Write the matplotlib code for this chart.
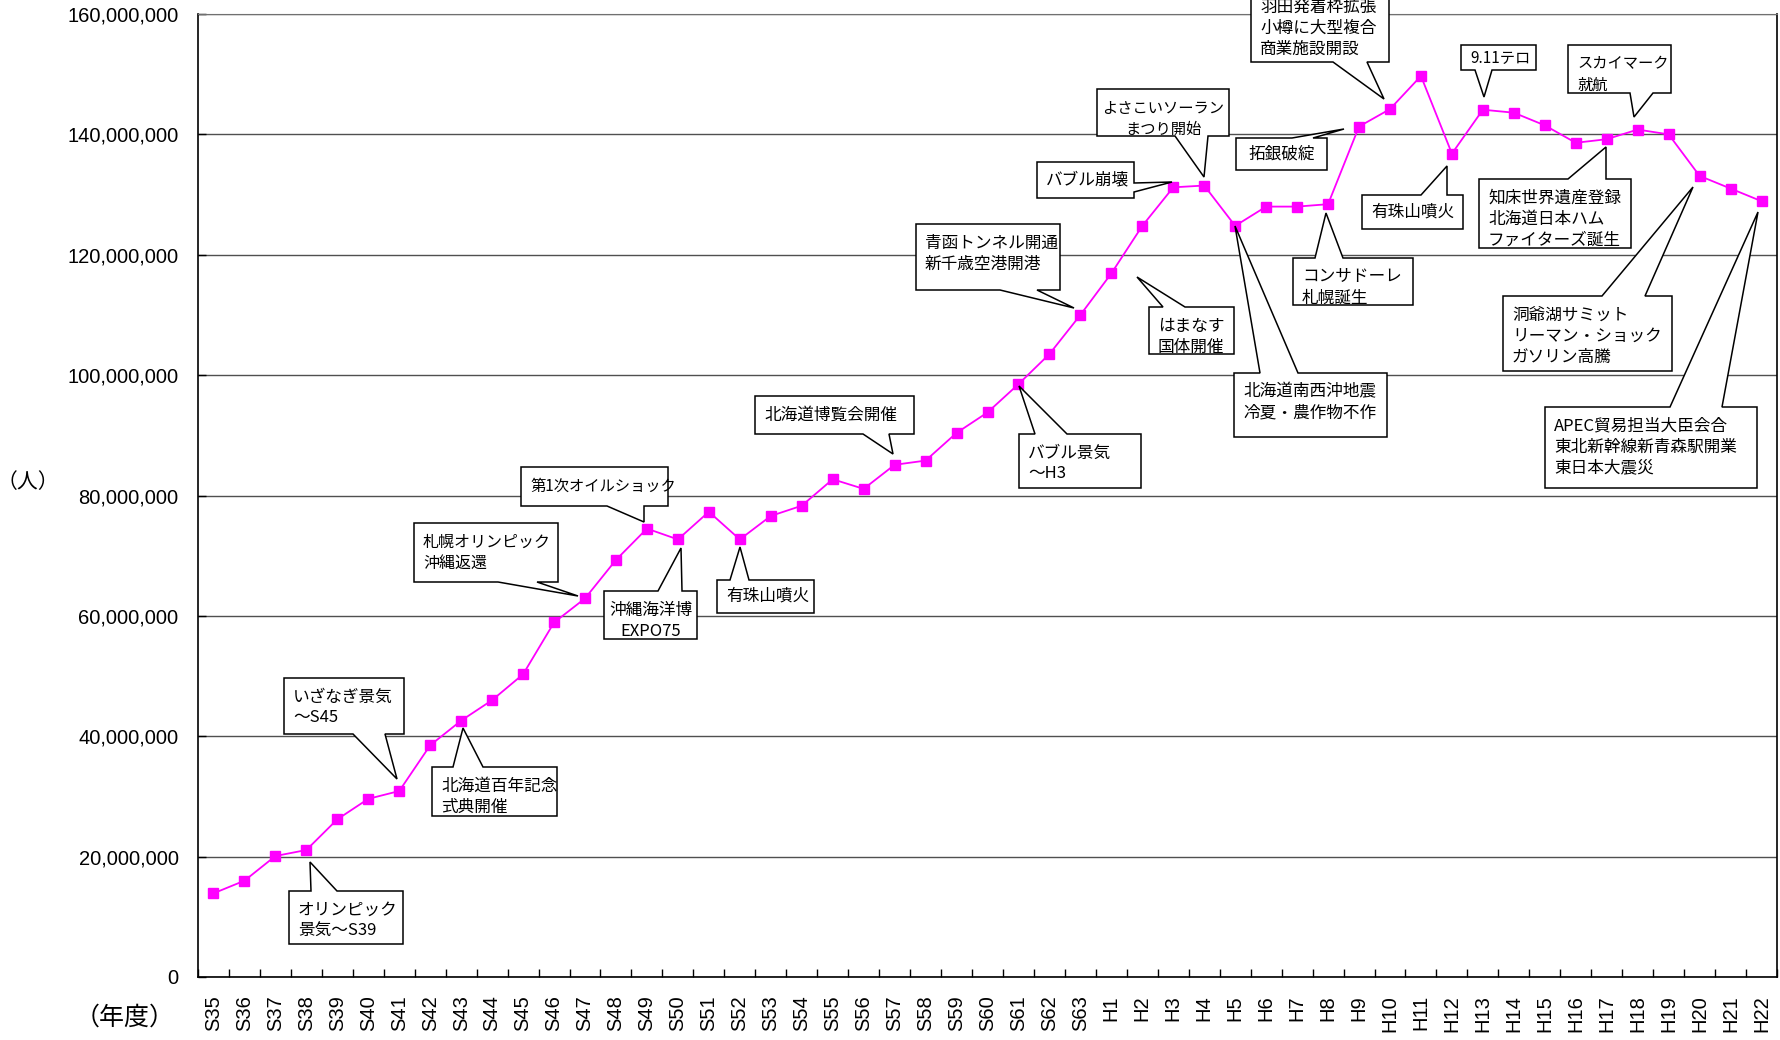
import matplotlib.pyplot as plt
from matplotlib.patches import Polygon
from matplotlib.ticker import FuncFormatter, MultipleLocator
import numpy as np

plt.rcParams['font.family'] = ['Noto Sans CJK JP', 'DejaVu Sans']

# 年度
years = ['S35', 'S36', 'S37', 'S38', 'S39', 'S40', 'S41', 'S42', 'S43', 'S44',
         'S45', 'S46', 'S47', 'S48', 'S49', 'S50', 'S51', 'S52', 'S53', 'S54',
         'S55', 'S56', 'S57', 'S58', 'S59', 'S60', 'S61', 'S62', 'S63',
         'H1', 'H2', 'H3', 'H4', 'H5', 'H6', 'H7', 'H8', 'H9', 'H10',
         'H11', 'H12', 'H13', 'H14', 'H15', 'H16', 'H17', 'H18', 'H19', 'H20',
         'H21', 'H22']

# 観光入込客数 (百万人)
visitors_m = [13.9, 16.0, 20.1, 21.1, 26.2, 29.6, 30.9, 38.5, 42.6, 46.0,
              50.3, 58.9, 62.9, 69.3, 74.5, 72.7, 77.3, 72.7, 76.6, 78.3,
              82.7, 81.1, 85.1, 85.8, 90.4, 93.8, 98.5, 103.5, 110.0,
              116.9, 124.8, 131.2, 131.5, 124.8, 128.0, 128.0, 128.4, 141.3, 144.2,
              149.7, 136.8, 144.1, 143.6, 141.5, 138.6, 139.2, 140.8, 140.0, 133.1,
              131.0, 128.9]
visitors = np.array(visitors_m) * 1e6

# 吹き出し: テキスト, 箱(px), 吹き出しの辺, 付け根, 先端(px), 揃え, 文字サイズ
callouts = [
    ('オリンピック\n景気～S39', (289, 891, 403, 944), 'top', (311, 337), (310, 862), 'left', 12),
    ('いざなぎ景気\n～S45', (284, 678, 404, 734), 'bottom', (353, 385), (397, 779), 'left', 12),
    ('北海道百年記念\n式典開催', (432, 767, 557, 816), 'top', (453, 483), (463, 728), 'left', 12),
    ('札幌オリンピック\n沖縄返還', (414, 523, 558, 582), 'bottom', (498, 537), (578, 596), 'left', 11.5),
    ('第1次オイルショック', (521, 467, 668, 506), 'bottom', (607, 644), (644, 522), 'left', 11),
    ('沖縄海洋博\nEXPO75', (604, 591, 697, 639), 'top', (658, 682), (681, 548), 'center', 12),
    ('有珠山噴火', (717, 580, 814, 613), 'top', (730, 749), (740, 547), 'left', 12),
    ('北海道博覧会開催', (755, 396, 914, 434), 'bottom', (863, 889), (893, 454), 'left', 12),
    ('バブル景気\n～H3', (1019, 434, 1141, 488), 'top', (1035, 1067), (1019, 386), 'left', 12),
    ('青函トンネル開通\n新千歳空港開港', (916, 224, 1060, 290), 'bottom', (1000, 1037), (1074, 308), 'left', 12),
    ('はまなす\n国体開催', (1149, 307, 1234, 354), 'top', (1163, 1185), (1137, 277), 'left', 12),
    ('バブル崩壊', (1037, 162, 1134, 198), 'right', (183, 192), (1172, 182), 'left', 12),
    ('よさこいソーラン\nまつり開始', (1097, 89, 1229, 136), 'bottom', (1175, 1208), (1204, 177), 'center', 11),
    ('拓銀破綻', (1236, 138, 1327, 170), 'top', (1292, 1313), (1344, 129), 'center', 12),
    ('北海道南西沖地震\n冷夏・農作物不作', (1234, 373, 1387, 437), 'top', (1260, 1298), (1235, 226), 'left', 12),
    ('コンサドーレ\n札幌誕生', (1293, 258, 1413, 305), 'top', (1315, 1343), (1326, 213), 'left', 12),
    ('羽田発着枠拡張\n小樽に大型複合\n商業施設開設', (1251, -12, 1389, 62), 'bottom', (1333, 1367), (1384, 99), 'left', 12),
    ('有珠山噴火', (1362, 195, 1463, 229), 'top', (1421, 1447), (1447, 166), 'left', 12),
    ('9.11テロ', (1461, 45, 1536, 70), 'bottom', (1475, 1492), (1484, 97), 'left', 11),
    ('スカイマーク\n就航', (1568, 45, 1671, 93), 'bottom', (1630, 1653), (1634, 117), 'left', 11),
    ('知床世界遺産登録\n北海道日本ハム\nファイターズ誕生', (1479, 179, 1631, 248), 'top', (1568, 1606), (1606, 147), 'left', 12),
    ('洞爺湖サミット\nリーマン・ショック\nガソリン高騰', (1503, 296, 1672, 371), 'top', (1602, 1645), (1693, 187), 'left', 12),
    ('APEC貿易担当大臣会合\n東北新幹線新青森駅開業\n東日本大震災', (1545, 407, 1757, 488), 'top', (1670, 1722), (1758, 212), 'left', 12),
]

W, H = 1780, 1040
fig = plt.figure(figsize=(W / 100, H / 100), dpi=100)
ax = fig.add_axes([198 / W, 1 - 977 / H, (1777 - 198) / W, (977 - 14) / H])

x = np.arange(len(years))
ax.plot(x, visitors, color='#FF00FF', lw=1.3, marker='s', ms=7, zorder=3)

ax.set_xlim(-0.5, len(years) - 0.5)
ax.set_ylim(0, 160e6)
ax.yaxis.set_major_locator(MultipleLocator(20e6))
ax.yaxis.set_major_formatter(FuncFormatter(lambda v, p: f'{int(v):,}'))
ax.yaxis.grid(True, color='#505050', lw=1)
ax.set_axisbelow(True)

ax.set_xticks(x)
ax.set_xticklabels(years, rotation=90, fontsize=14.5, family='Liberation Sans')
ax.set_xticks(np.arange(-0.5, len(years), 1), minor=True)
ax.tick_params(axis='x', which='major', length=0, pad=13)
ax.tick_params(axis='x', which='minor', direction='in', length=6, width=1)
ax.tick_params(axis='y', direction='in', length=6, width=1, pad=14, labelsize=14.5)
for lab in ax.get_yticklabels():
    lab.set_family('Liberation Sans')

for s in ['left', 'bottom', 'right']:
    ax.spines[s].set_color('black')
    ax.spines[s].set_linewidth(1.2)
ax.spines['top'].set_color('#707070')

fig.text(28 / W, 1 - 482 / H, '（人）', fontsize=15, ha='center', va='center')
fig.text(125 / W, 1 - 1018 / H, '（年度）', fontsize=18, ha='center', va='center')


def fx(px, py):
    return (px / W, 1 - py / H)


for text, box, side, base, tip, align, size in callouts:
    x0, y0, x1, y1 = box
    b0, b1 = base
    if side == 'top':
        pts = [(x0, y0), (b0, y0), tip, (b1, y0), (x1, y0), (x1, y1), (x0, y1)]
    elif side == 'bottom':
        pts = [(x0, y0), (x1, y0), (x1, y1), (b1, y1), tip, (b0, y1), (x0, y1)]
    else:
        pts = [(x0, y0), (x1, y0), (x1, b0), tip, (x1, b1), (x1, y1), (x0, y1)]
    poly = Polygon([fx(*p) for p in pts], closed=True, transform=fig.transFigure,
                   facecolor='white', edgecolor='black', lw=1.1, zorder=5, clip_on=False)
    fig.add_artist(poly)

    tx = (x0 + x1) / 2 if align == 'center' else x0 + 9
    lines = text.split('\n')
    for i, line in enumerate(lines):
        if len(lines) == 1:
            ty = (y0 + y1) / 2
        else:
            ty = y0 + 19 + i * 21
        fig.text(*fx(tx, ty), line, fontsize=size, ha=align, va='center', zorder=6)

fig.savefig('out.png', dpi=100)
